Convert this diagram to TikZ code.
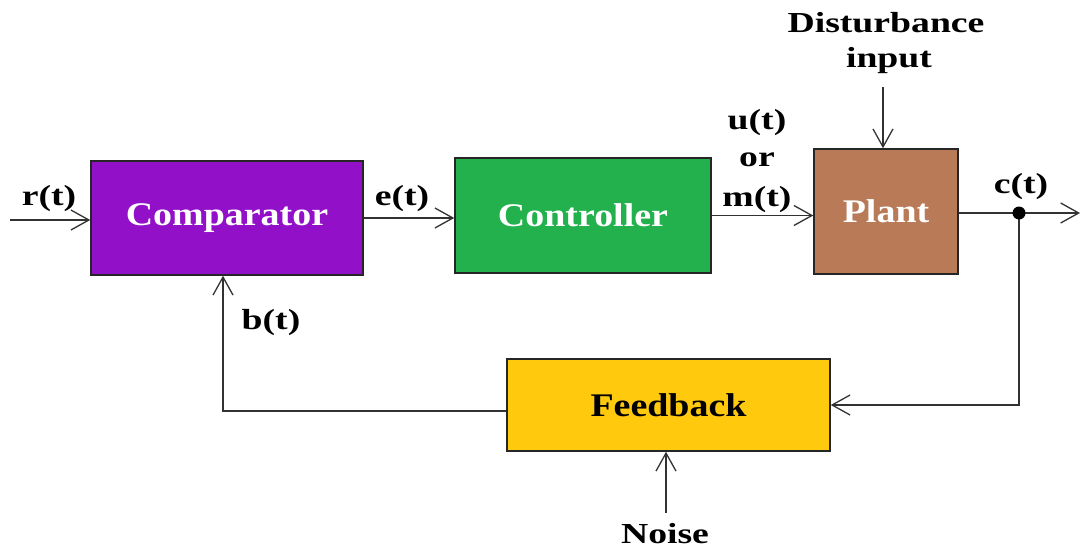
\documentclass[tikz,border=0pt]{standalone}
\usepackage{fontspec}
\setmainfont{Liberation Serif}
\usetikzlibrary{arrows.meta}
\definecolor{cpurple}{RGB}{145,16,200}
\definecolor{cgreen}{RGB}{34,177,76}
\definecolor{cbrown}{RGB}{185,122,87}
\definecolor{cyellow}{RGB}{255,201,14}
\definecolor{cline}{RGB}{50,50,50}
\newcommand{\boxtxt}[1]{\scalebox{1.15}[1]{\fontsize{33}{36}\selectfont\bfseries #1}}
\newcommand{\lbltxt}[1]{\scalebox{1.3}[1]{\fontsize{29}{34}\selectfont\bfseries #1}}
\tikzset{
  blockbox/.style={draw=black!85, line width=1.5pt, inner sep=0pt},
  conn/.style={draw=cline, line width=1.5pt},
  arr/.style={conn, -{Straight Barb[length=18pt,width=20pt,line width=1.3pt]}},
  lbl/.style={inner sep=0pt, text=black}
}
\begin{document}
\begin{tikzpicture}[x=1pt,y=-1pt]
\useasboundingbox (0,0) rectangle (1081,551);
% blocks
\node[blockbox, fill=cpurple, minimum width=272pt, minimum height=114pt] (comp) at (227,218) {\textcolor{white}{\boxtxt{Comparator}}};
\node[blockbox, fill=cgreen, minimum width=256pt, minimum height=115pt] (ctrl) at (583,215.5) {\textcolor{white}{\boxtxt{Controller}}};
\node[blockbox, fill=cbrown, minimum width=144pt, minimum height=125pt] (plant) at (886,211.5) {\textcolor{white}{\boxtxt{Plant}}};
\node[blockbox, fill=cyellow, minimum width=323pt, minimum height=92pt] (fb) at (668.5,405) {\boxtxt{Feedback}};
% coordinates
\coordinate (in) at (10,220);
\coordinate (out) at (1080,213);
\coordinate (tap) at (1019,213);
\coordinate (dist) at (883,87);
\coordinate (noise) at (666,513);
% connectors
\draw[arr] (in) -- (in -| comp.west);
\draw[arr] (comp.east) -- (comp.east -| ctrl.west);
\draw[arr] (ctrl.east) -- (ctrl.east -| plant.west);
\draw[arr] (plant.east |- out) -- (out);
\draw[arr] (tap) |- (fb.east);
\draw[arr] ([yshift=-6pt]fb.west) -| ([xshift=-4pt]comp.south);
\draw[arr] (dist) -- (dist |- plant.north);
\draw[arr] (noise) -- (noise |- fb.south);
\fill[black] (tap) circle (6.5pt);
% labels
\node[lbl] (lr) at (49,199) {\lbltxt{r(t)}};
\node[lbl] (le) at (402,199) {\lbltxt{e(t)}};
\node[lbl] (lu) at (757,123) {\lbltxt{u(t)}};
\node[lbl] (lor) at (757,160) {\lbltxt{or}};
\node[lbl] (lm) at (757,200) {\lbltxt{m(t)}};
\node[lbl] (lc) at (1021,187) {\lbltxt{c(t)}};
\node[lbl] (lb) at (271,323) {\lbltxt{b(t)}};
\node[lbl] (ld1) at (886,23) {\lbltxt{Disturbance}};
\node[lbl] (ld2) at (889,61) {\lbltxt{input}};
\node[lbl] (ln) at (665,534) {\lbltxt{Noise}};
\end{tikzpicture}
\end{document}
